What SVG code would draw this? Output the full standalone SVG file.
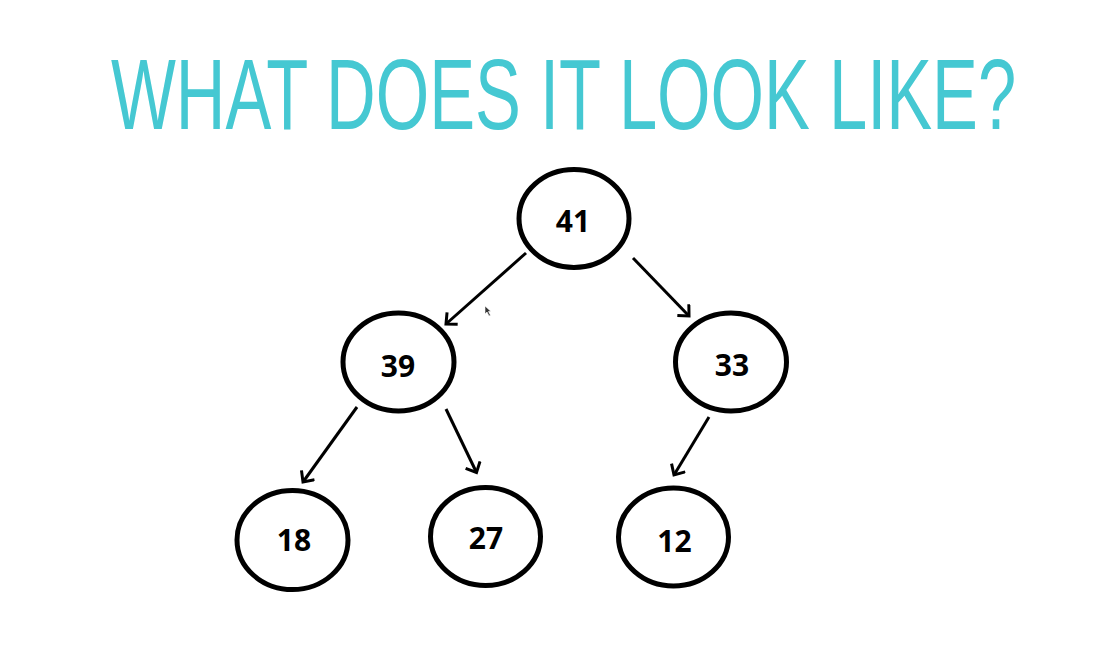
<svg xmlns="http://www.w3.org/2000/svg" width="1096" height="668" viewBox="0 0 1096 668">
<defs>
<style>
.node ellipse{fill:#fff;stroke:#000;stroke-width:5}
.node text{font-family:"Open Sans","Noto Sans","Liberation Sans",sans-serif;font-weight:bold;font-size:30px;fill:#000;text-anchor:middle}
.edge{stroke:#000;stroke-width:3;fill:none;marker-end:url(#arrow)}
.title{font-family:"Liberation Sans","DejaVu Sans",sans-serif;font-size:101px;fill:#45C8D2}
</style>
<marker id="arrow" markerUnits="userSpaceOnUse" markerWidth="18" markerHeight="18" viewBox="0 0 18 18" refX="13" refY="9" orient="auto">
<path d="M4.5,1 L13,9 L4.5,17" fill="none" stroke="#000" stroke-width="3"/>
</marker>
</defs>
<rect width="1096" height="668" fill="#fff"/>
<text class="title" transform="translate(111,129) scale(0.673,1)" x="0" y="0" textLength="1345" lengthAdjust="spacingAndGlyphs">WHAT DOES IT LOOK LIKE?</text>
<g id="connectors">
<line class="edge" x1="526" y1="253" x2="446" y2="324"/>
<line class="edge" x1="633" y1="258" x2="689" y2="316"/>
<line class="edge" x1="357" y1="407" x2="303" y2="482"/>
<line class="edge" x1="446" y1="409" x2="476.5" y2="472.5"/>
<line class="edge" x1="709" y1="417" x2="674" y2="475"/>
</g>
<g id="n41" class="node"><ellipse cx="574" cy="218.5" rx="55" ry="49"/><text x="573" y="231.5">41</text></g>
<g id="n39" class="node"><ellipse cx="398.5" cy="362" rx="55.5" ry="49"/><text x="398" y="376.5">39</text></g>
<g id="n33" class="node"><ellipse cx="731" cy="362" rx="55.5" ry="49"/><text x="732" y="376">33</text></g>
<g id="n18" class="node"><ellipse cx="292.5" cy="540" rx="55.5" ry="49.5"/><text x="294" y="550.5">18</text></g>
<g id="n27" class="node"><ellipse cx="485.5" cy="536.5" rx="55" ry="49"/><text x="486" y="549">27</text></g>
<g id="n12" class="node"><ellipse cx="673.5" cy="537" rx="55" ry="49"/><text x="674.5" y="551.5">12</text></g>
<path d="M485,306 L485,314 L487,312 L489,316 L490.5,315.3 L488.5,311.5 L491,311.5 Z" fill="#333" stroke="#fff" stroke-width="0.6"/>
</svg>
